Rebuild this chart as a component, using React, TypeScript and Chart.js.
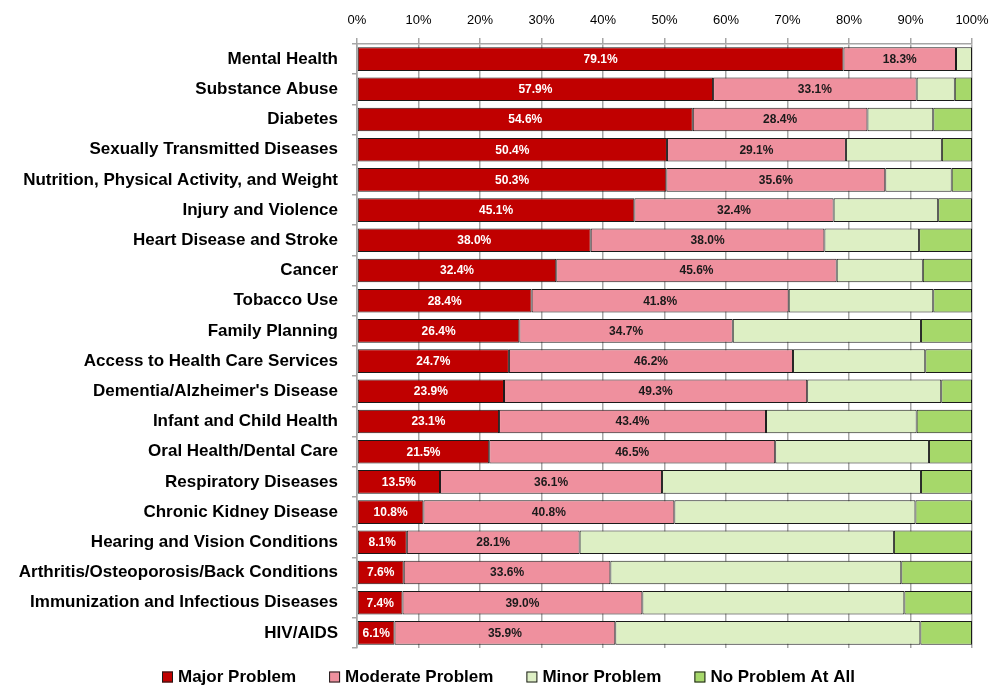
import React, { useEffect, useRef } from "react";
import { Chart, registerables } from "chart.js";

Chart.register(...registerables);

const categories = [
  "Mental Health",
  "Substance Abuse",
  "Diabetes",
  "Sexually Transmitted Diseases",
  "Nutrition, Physical Activity, and Weight",
  "Injury and Violence",
  "Heart Disease and Stroke",
  "Cancer",
  "Tobacco Use",
  "Family Planning",
  "Access to Health Care Services",
  "Dementia/Alzheimer's Disease",
  "Infant and Child Health",
  "Oral Health/Dental Care",
  "Respiratory Diseases",
  "Chronic Kidney Disease",
  "Hearing and Vision Conditions",
  "Arthritis/Osteoporosis/Back Conditions",
  "Immunization and Infectious Diseases",
  "HIV/AIDS",
];

const majorProblem = [79.1, 57.9, 54.6, 50.4, 50.3, 45.1, 38.0, 32.4, 28.4, 26.4, 24.7, 23.9, 23.1, 21.5, 13.5, 10.8, 8.1, 7.6, 7.4, 6.1];
const moderateProblem = [18.3, 33.1, 28.4, 29.1, 35.6, 32.4, 38.0, 45.6, 41.8, 34.7, 46.2, 49.3, 43.4, 46.5, 36.1, 40.8, 28.1, 33.6, 39.0, 35.9];
const minorProblem = [2.6, 6.2, 10.7, 15.6, 10.8, 17.0, 15.4, 14.0, 23.5, 30.6, 21.5, 21.8, 24.5, 25.0, 42.1, 39.2, 51.1, 47.3, 42.6, 49.6];
const noProblem = [0.0, 2.8, 6.3, 4.9, 3.3, 5.5, 8.6, 8.0, 6.3, 8.3, 7.6, 5.0, 9.0, 7.0, 8.3, 9.2, 12.7, 11.5, 11.0, 8.4];

const seriesNames = ["Major Problem", "Moderate Problem", "Minor Problem", "No Problem At All"];
const seriesColors = ["#C00000", "#EF909E", "#DDEFC4", "#A6D86A"];
const labelColors = ["#FFFFFF", "#1a1a1a"];

const FONT = "'Liberation Sans', Arial, sans-serif";

const valueLabelPlugin = {
  id: "valueLabels",
  afterDatasetsDraw(chart: any) {
    const ctx = chart.ctx;
    ctx.save();
    ctx.font = `bold 12px ${FONT}`;
    ctx.textAlign = "center";
    ctx.textBaseline = "middle";
    [0, 1].forEach((di) => {
      const meta = chart.getDatasetMeta(di);
      const data = chart.data.datasets[di].data as number[];
      meta.data.forEach((bar: any, i: number) => {
        const p = bar.getProps(["x", "y", "base"], true);
        const cx = (p.x + p.base) / 2;
        ctx.fillStyle = labelColors[di];
        ctx.fillText(data[i].toFixed(1) + "%", cx, p.y + 0.5);
      });
    });
    ctx.restore();
  },
};

const legendPlugin = {
  id: "customLegend",
  afterDraw(chart: any) {
    const ctx = chart.ctx;
    ctx.save();
    ctx.font = `bold 17px ${FONT}`;
    ctx.textBaseline = "middle";
    ctx.textAlign = "left";
    let x = 162;
    const y = 677;
    seriesNames.forEach((name, i) => {
      ctx.fillStyle = seriesColors[i];
      ctx.fillRect(x, y - 5.5, 11, 11);
      ctx.strokeStyle = "#1a1a1a";
      ctx.lineWidth = 1;
      ctx.strokeRect(x + 0.5, y - 5, 10, 10);
      ctx.fillStyle = "#000";
      ctx.fillText(name, x + 16, y + 0.5);
      x += 16 + ctx.measureText(name).width + 33;
    });
    ctx.restore();
  },
};

export default function App() {
  const ref = useRef<HTMLCanvasElement>(null);

  useEffect(() => {
    if (!ref.current) return;
    const datasets = [majorProblem, moderateProblem, minorProblem, noProblem].map((d, i) => ({
      label: seriesNames[i],
      data: d,
      backgroundColor: seriesColors[i],
      borderColor: "#1a1a1a",
      borderWidth: 1,
      borderSkipped: false,
      barPercentage: 0.78,
      categoryPercentage: 1,
    }));
    const chart = new Chart(ref.current, {
      type: "bar",
      data: { labels: categories, datasets },
      plugins: [valueLabelPlugin, legendPlugin],
      options: {
        indexAxis: "y",
        animation: false,
        responsive: false,
        maintainAspectRatio: false,
        layout: { padding: { left: 0, right: 22, top: 0, bottom: 40 } },
        plugins: {
          legend: { display: false },
          tooltip: { enabled: false },
          title: { display: false },
        },
        scales: {
          x: {
            type: "linear",
            position: "top",
            stacked: true,
            min: 0,
            max: 100,
            ticks: {
              stepSize: 10,
              callback: (v: any) => v + "%",
              color: "#000",
              font: { family: FONT, size: 13 },
              padding: 10,
            },
            grid: {
              color: "#a6a6a6",
              lineWidth: 1.5,
              tickLength: 6,
              drawTicks: true,
            },
            border: { display: true, color: "#a6a6a6", width: 1.5 },
            afterFit: (scale: any) => {
              scale.height = 44;
              scale.paddingRight = 0;
              scale.paddingLeft = 0;
            },
          },
          y: {
            type: "category",
            stacked: true,
            ticks: {
              color: "#000",
              font: { family: FONT, size: 17, weight: "bold" },
              padding: 14,
              autoSkip: false,
            },
            grid: {
              display: true,
              drawOnChartArea: false,
              drawTicks: true,
              tickLength: 5,
              offset: true,
              color: "#a6a6a6",
              lineWidth: 1.5,
            },
            border: { display: true, color: "#a6a6a6", width: 1.5 },
            afterFit: (scale: any) => {
              scale.width = 357;
            },
          },
        },
      } as any,
    });
    return () => chart.destroy();
  }, []);

  return (
    <div style={{ position: "fixed", left: 0, top: 0, width: 994, height: 688, background: "#fff" }}>
      <canvas ref={ref} width={994} height={688} style={{ width: 994, height: 688, display: "block" }} />
    </div>
  );
}
